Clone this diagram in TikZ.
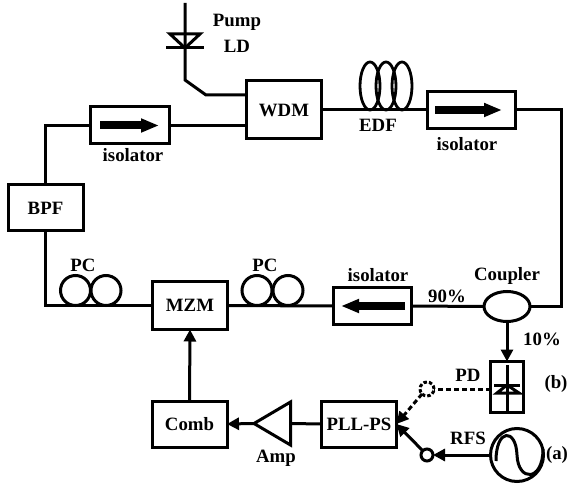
\documentclass[tikz,border=0pt]{standalone}
\usepackage{fontspec}
\setmainfont{Liberation Serif}
\usetikzlibrary{arrows.meta,shapes.geometric}
\tikzset{
  x=1pt,y=-1pt,
  every node/.style={font=\fontsize{18.8}{20}\selectfont\bfseries,inner sep=0pt,outer sep=0pt},
  ln/.style={line width=3pt,line cap=butt,line join=miter},
  box/.style={draw,line width=3pt,rectangle,minimum width=#1,minimum height=46pt},
  isobox/.style={draw,line width=3pt,rectangle,minimum width=#1,minimum height=37pt},
  coil/.style={draw,line width=3pt,circle,minimum size=30pt},
  loopc/.style={draw,line width=2.8pt,ellipse,minimum width=20pt,minimum height=48pt},
  tip/.style={-{Triangle[length=12pt,width=12pt]}},
  bigarrow/.style={line width=8pt,-{Triangle[length=18pt,width=13pt]}},
  switch/.style={draw,line width=3pt,circle,minimum size=12pt},
}
\begin{document}
\begin{tikzpicture}
\useasboundingbox (0,0) rectangle (570,486);
% boxes
\node[box=75pt,minimum height=58pt] (wdm) at (284,110) {WDM};
\node[box=75pt] (bpf) at (45.5,208) {BPF};
\node[box=75pt,minimum height=48pt] (mzm) at (190,305.5) {MZM};
\node[box=75pt] (comb) at (189.5,424) {Comb};
\node[box=75pt] (pll) at (359,424) {PLL-PS};
\node[isobox=79pt] (iso1) at (130,125.5) {};
\node[isobox=88pt] (iso2) at (471.5,110) {};
\node[isobox=78pt] (iso3) at (372.5,306) {};
\node[draw,line width=3pt,rectangle,minimum width=33pt,minimum height=51pt] (pd) at (507,387) {};
\node[draw,line width=3pt,ellipse,minimum width=46pt,minimum height=30pt] (coupler) at (507,306.5) {};
\node[draw,line width=3pt,circle,minimum size=53pt] (rfs) at (517,455) {};
\node[switch,dash pattern=on 3.5pt off 2pt,minimum size=14pt] (swb) at (427,389) {};
\node[switch] (swa) at (427,455) {};
% coils
\node[coil] (pca) at (75.5,290.5) {};
\node[coil] (pcb) at (106,290.5) {};
\node[coil] (pcc) at (257,290.5) {};
\node[coil] (pcd) at (288,290.5) {};
\node[loopc] (edfa) at (370,86) {};
\node[loopc] (edfb) at (386,86) {};
\node[loopc] (edfc) at (402,86) {};
% coordinates
\coordinate (ltop) at (45,125.5);
\coordinate (lbot) at (45,305.5);
\coordinate (rtop) at (561,110);
\coordinate (rbot) at (561,306.5);
\coordinate (ptop) at (185,3);
\coordinate (pknee) at (185,80);
\coordinate (pelb) at (206,95);
\coordinate (pwdm) at (wdm.west |- pelb);
\coordinate (ampTip) at (254,423.5);
\coordinate (ampUp) at (290.5,402);
\coordinate (ampLo) at (290.5,445);
\coordinate (ampBase) at (290.5,423.5);
\coordinate (a1s) at (100,125.5);
\coordinate (a1e) at (159,125.5);
\coordinate (a2s) at (435,110);
\coordinate (a2e) at (502,110);
\coordinate (a3s) at (405,306);
\coordinate (a3e) at (341,306);
% connectors
\draw[ln] (wdm.west |- iso1.east) -- (iso1.east);
\draw[ln] (iso1.west) -- (ltop) -- (bpf.north -| ltop);
\draw[ln] (bpf.south -| lbot) -- (lbot) -- (mzm.west);
\draw[ln] (mzm.east) -- (iso3.west);
\draw[ln] (iso3.east) -- (coupler.west);
\draw[ln] (coupler.east) -- (rbot) -- (rtop) -- (iso2.east);
\draw[ln] (iso2.west) -- (wdm.east |- iso2.west);
\draw[ln] (ptop) -- (pknee) -- (pelb) -- (pwdm);
\draw[ln,tip] (comb.north) -- (mzm.south);
\draw[ln,tip] (ampTip) -- (comb.east);
\draw[ln] (ampBase) -- (pll.west);
\draw[ln] (ampTip) -- (ampUp) -- (ampLo) -- cycle;
\draw[ln,tip] (coupler.south) -- (pd.north);
\draw[ln,tip] (rfs.west) -- (swa.east);
\draw[ln,tip] (swa.north west) -- (pll.east);
\draw[ln,dash pattern=on 5pt off 3pt] (pd.west |- swb) -- (swb.east);
\draw[ln,tip,dash pattern=on 5pt off 3pt] (swb.south west) -- (pll.east);
% isolator arrows
\draw[bigarrow] (a1s) -- (a1e);
\draw[bigarrow] (a2s) -- (a2e);
\draw[bigarrow] (a3s) -- (a3e);
% pump diode
\draw[ln] (170,34) -- (200,34) -- (185,48) -- cycle;
\draw[ln] (166,48) -- (204,48);
% PD diode
\draw[ln] (507,365) -- (507,411);
\draw[ln] (494,385) -- (520,385);
\draw[ln] (507,385) -- (497,393) -- (519,393) -- cycle;
% sine
\draw[line width=3pt] (496,461) .. controls (496,428) and (516,428) .. (517,455)
  .. controls (518,482) and (543,482) .. (543,449);
% labels
\node at (237,22) {Pump};
\node at (237,46) {LD};
\node at (378,125) {EDF};
\node at (467,144) {isolator};
\node at (133,155) {isolator};
\node at (378,275) {isolator};
\node at (83,265) {PC};
\node at (265,265) {PC};
\node at (447,296) {90\%};
\node at (507,276) {Coupler};
\node at (542,339) {10\%};
\node at (468,375) {PD};
\node at (556,384) {(b)};
\node at (468,438) {RFS};
\node at (557,455) {(a)};
\node at (276,458) {Amp};
\end{tikzpicture}
\end{document}
